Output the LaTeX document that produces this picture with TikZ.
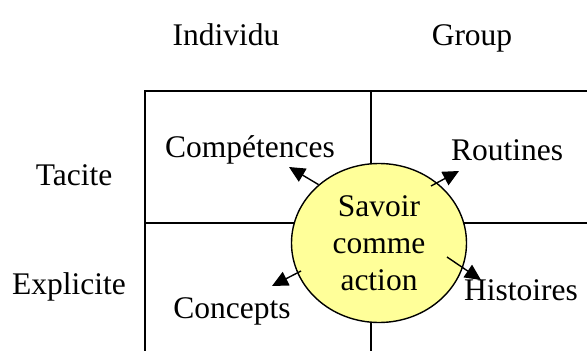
\documentclass[tikz,border=0pt]{standalone}
\usepackage{fontspec}
\setmainfont{Liberation Serif}
\usetikzlibrary{arrows.meta,shapes.geometric}
\definecolor{savoirfill}{HTML}{FFFF99}
\begin{document}
\begin{tikzpicture}[x=1pt,y=-1pt,
  lbl/.style={anchor=base,inner sep=0pt,font=\fontsize{31.5}{37}\selectfont},
  gridline/.style={line width=1.4pt,black},
  arr/.style={line width=1.4pt,-{Triangle[length=16pt,width=15pt]}},
  hub/.style={ellipse,draw,line width=1.4pt,fill=savoirfill,
    minimum width=175pt,minimum height=159pt,inner sep=0pt,align=center,
    font=\fontsize{31.5}{37}\selectfont}]
  \useasboundingbox (0,0) rectangle (587,351);
  \clip (0,0) rectangle (587,351);
  \fill[white] (0,0) rectangle (587,351);

  % the four-cell matrix (runs off the right and bottom edges)
  \draw[gridline] (145,400) -- (145,91) -- (640,91);
  \draw[gridline] (371,91) -- (371,400);
  \draw[gridline] (145,223) -- (640,223);

  % column and row headings
  \node[lbl] (ind) at (226,45) {Individu};
  \node[lbl] (grp) at (472,45) {Group};
  \node[lbl] (tac) at (74,185) {Tacite};
  \node[lbl] (exp) at (69,294) {Explicite};

  % cell labels
  \node[lbl] (comp) at (250,157) {Compétences};
  \node[lbl] (rout) at (507,160) {Routines};
  \node[lbl] (conc) at (232,318) {Concepts};
  \node[lbl] (hist) at (521,300) {Histoires};

  % central circle
  \node[hub] (sca) at (379,243) {Savoir\\comme\\action};

  % arrow tips pointing to the cell labels
  \coordinate (tComp) at (289,167);
  \coordinate (tRout) at (459,171);
  \coordinate (tConc) at (272,286);
  \coordinate (tHist) at (481,280);

  \draw[arr] (sca.136) -- (tComp);
  \draw[arr] ([shift={(52,-57)}]sca.center) -- (tRout);
  \draw[arr] ([shift={(-78,28)}]sca.center) -- (tConc);
  \draw[arr] ([shift={(68,14)}]sca.center) -- (tHist);
\end{tikzpicture}
\end{document}
